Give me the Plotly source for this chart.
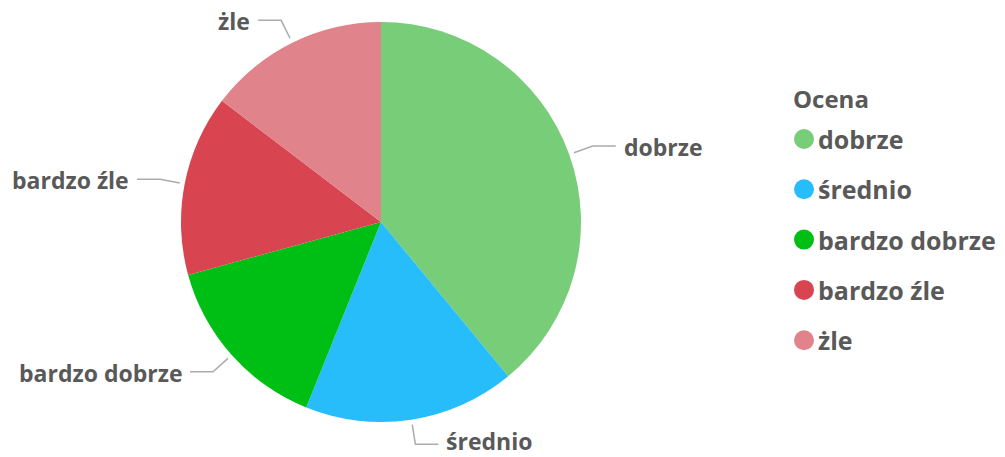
import math
import plotly.graph_objects as go

categories = ["dobrze", "średnio", "bardzo dobrze", "bardzo źle", "źle"]
legend_labels = ["dobrze", "średnio", "bardzo dobrze", "bardzo źle", "żle"]
label_texts = ["dobrze", "średnio", "bardzo dobrze", "bardzo źle", "żle"]
values = [16, 7, 6, 6, 6]
colors = ["#78CD78", "#27BDFA", "#00BF14", "#D84450", "#E0838A"]
legend_title = "Ocena"

W, H = 1005, 457
CX, CY, R = 381, 222, 200
TEXT = "#595959"
FONT = "Open Sans"

fig = go.Figure()
fig.add_trace(go.Pie(
    labels=categories, values=values, sort=False, direction="clockwise", rotation=0,
    marker=dict(colors=colors, line=dict(width=0)), textinfo="none", hoverinfo="label+value",
    showlegend=False,
    domain=dict(x=[(CX - R) / W, (CX + R) / W], y=[1 - (CY + R) / H, 1 - (CY - R) / H]),
))

total = sum(values)
annotations = []
cum = 0
for lab, v in zip(label_texts, values):
    mid = (cum + v / 2) / total * 2 * math.pi
    cum += v
    s, c = math.sin(mid), math.cos(mid)
    x0, y0 = CX + (R + 5) * s, CY - (R + 5) * c
    x1, y1 = CX + (R + 25) * s, CY - (R + 25) * c
    side = 1 if s >= 0 else -1
    x2 = x1 + side * 23
    fig.add_trace(go.Scatter(x=[x0, x1, x2], y=[y0, y1, y1], mode="lines",
                             line=dict(color="#ABABAB", width=1.5), hoverinfo="skip", showlegend=False))
    ty = min(y1 + 1, H - 16)
    annotations.append(dict(x=x2 + side * 7, y=ty, xref="x", yref="y", text=lab, showarrow=False,
                            xanchor="left" if side > 0 else "right", yanchor="middle",
                            height=22, valign="middle", borderpad=0,
                            font=dict(family=FONT, size=23, color=TEXT, weight=700)))

# manual legend
LX, LY0, LDY = 804, 139, 50.3
ys = [LY0 + i * LDY for i in range(len(categories))]
fig.add_trace(go.Scatter(x=[LX] * len(categories), y=ys, mode="markers",
                         marker=dict(size=20, color=colors), hoverinfo="skip", showlegend=False))
for lab, y in zip(legend_labels, ys):
    annotations.append(dict(x=LX + 12, y=y, xref="x", yref="y", text=lab, showarrow=False,
                            xanchor="left", yanchor="middle",
                            font=dict(family=FONT, size=25, color=TEXT, weight=700)))
annotations.append(dict(x=791, y=98, xref="x", yref="y", text=legend_title, showarrow=False,
                        xanchor="left", yanchor="middle",
                        font=dict(family=FONT, size=24, color=TEXT, weight=700)))

fig.update_layout(
    width=W, height=H, margin=dict(l=0, r=0, t=0, b=0),
    paper_bgcolor="white", plot_bgcolor="rgba(0,0,0,0)",
    xaxis=dict(range=[0, W], visible=False, fixedrange=True),
    yaxis=dict(range=[H, 0], visible=False, fixedrange=True),
    annotations=annotations,
)
fig.write_html("out.html", config={"displayModeBar": False},
               post_script="document.body.style.margin='0';")
